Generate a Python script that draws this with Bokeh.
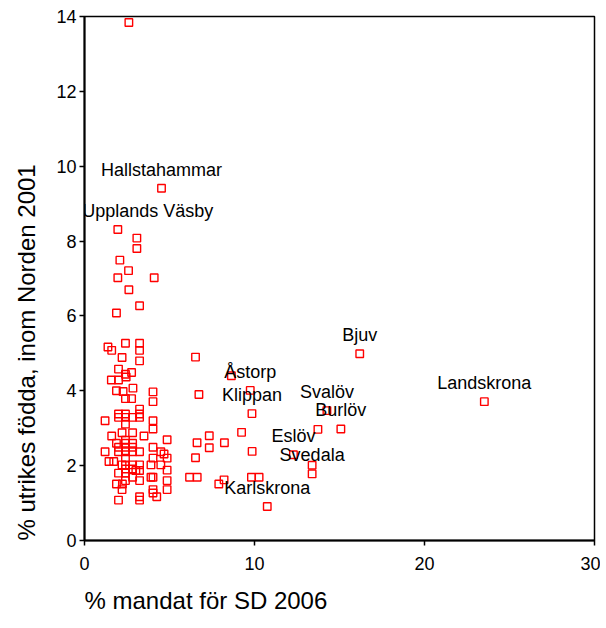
from bokeh.plotting import figure
from bokeh.models import Range1d, Title, FixedTicker, ColumnDataSource
from bokeh.core.properties import value
from bokeh.embed import file_html
from bokeh.resources import INLINE

# ---- data ----
x_title = "% mandat för SD 2006"
y_title = "% utrikes födda, inom Norden 2001"
x_ticks = [0, 10, 20, 30]
y_ticks = [0, 2, 4, 6, 8, 10, 12, 14]

labeled_names = ["Hallstahammar", "Upplands Väsby", "Bjuv", "Landskrona", "Åstorp",
                 "Klippan", "Svalöv", "Burlöv", "Eslöv", "Svedala", "Karlskrona"]
labeled_x = [4.53, 1.96, 16.19, 23.52, 9.75, 9.85, 14.26, 15.08, 12.29, 13.39, 10.75]
labeled_y = [9.41, 8.31, 4.99, 3.71, 4.01, 3.39, 3.47, 2.98, 2.29, 1.78, 0.91]

other_x = [2.61, 3.08, 3.08, 2.08, 2.59, 1.96, 4.10, 2.61, 3.24, 1.88,
           1.38, 1.60, 2.41, 3.24, 3.24, 2.21, 3.24, 6.53,
           2.00, 2.77, 2.41, 2.45, 1.58, 2.00, 2.85, 1.88, 2.27, 2.41, 2.77, 4.03, 4.03, 6.73, 8.64,
           3.24, 3.24, 3.24, 2.00, 2.00, 2.41, 2.41, 2.83, 1.21, 4.03, 2.41, 4.03, 3.50, 1.60, 2.21,
           2.83, 4.86, 1.88, 2.41, 2.41, 2.83, 2.00, 2.41, 2.83, 4.03, 1.21, 2.00, 2.41, 2.83, 3.24,
           4.49, 4.68, 4.03, 4.86, 2.41, 1.44, 1.72, 2.21, 2.41, 2.83, 3.24, 3.91, 4.49, 2.41, 2.83,
           3.24, 3.02, 2.00, 4.86, 2.41, 2.83, 4.03, 3.91, 6.18, 6.63, 1.88, 2.23, 2.41, 3.24, 4.86,
           7.90, 8.21, 2.21, 4.03, 4.86, 4.03, 4.25, 3.24, 3.24, 2.00, 9.82, 10.27, 9.86, 9.24, 8.23,
           7.34, 7.34, 6.62, 6.53, 13.73, 13.39]
other_y = [13.84, 8.08, 7.80, 7.49, 7.21, 7.02, 7.02, 6.70, 6.27, 6.08,
           5.17, 5.08, 5.27, 5.27, 5.08, 4.89, 4.80, 4.90,
           4.58, 4.49, 4.44, 4.37, 4.29, 4.29, 4.07, 4.00, 3.98, 3.79, 3.79, 3.97, 3.71, 3.90, 4.40,
           3.51, 3.38, 3.29, 3.38, 3.29, 3.38, 3.29, 3.29, 3.20, 3.20, 3.11, 2.98, 2.79, 2.79, 2.88,
           2.88, 2.69, 2.60, 2.68, 2.60, 2.60, 2.49, 2.49, 2.49, 2.49, 2.37, 2.37, 2.37, 2.37, 2.37,
           2.37, 2.31, 2.20, 2.20, 2.20, 2.11, 2.11, 2.02, 2.02, 2.02, 2.02, 2.02, 2.02, 1.91, 1.91,
           1.87, 1.87, 1.80, 1.88, 1.80, 1.69, 1.69, 1.69, 1.69, 1.69, 1.51, 1.51, 1.60, 1.60, 1.60,
           1.51, 1.62, 1.36, 1.36, 1.36, 1.27, 1.17, 1.17, 1.08, 1.08, 1.69, 1.69, 2.38, 2.89, 2.61,
           2.80, 2.48, 2.61, 2.21, 2.97, 2.01]

# ---- styling ----
FONT = "Liberation Sans"
# horizontal pixel shift per label (keeps "Upplands Väsby" inside the frame)
label_dx = [0, 30, 0, 0, 0, 0, 0, 0, 0, 0, 0]

p = figure(width=600, height=628, output_backend="svg", toolbar_location=None,
           x_range=Range1d(0, 30), y_range=Range1d(0, 14),
           min_border_left=84, min_border_right=6, min_border_top=16, min_border_bottom=88)
p.background_fill_color = "white"
p.border_fill_color = "white"
p.outline_line_color = "black"
p.outline_line_width = 1.5
p.grid.visible = False

for ax, ticks in ((p.xaxis[0], x_ticks), (p.yaxis[0], y_ticks)):
    ax.ticker = FixedTicker(ticks=ticks)
    ax.minor_tick_line_color = None
    ax.major_tick_in = 0
    ax.major_tick_out = 5
    ax.major_tick_line_width = 1.5
    ax.axis_line_width = 2
    ax.axis_line_color = "black"
    ax.major_tick_line_color = "black"
    ax.major_label_text_font = FONT
    ax.major_label_text_font_size = "18px"
    ax.major_label_text_color = "black"
p.xaxis[0].major_label_standoff = 11
p.yaxis[0].major_label_standoff = 3

src_all = ColumnDataSource(dict(x=other_x + labeled_x, y=other_y + labeled_y))
p.scatter("x", "y", source=src_all, marker="square", size=7.5,
          line_color="#FF0000", line_width=1.4, fill_alpha=0)

src_lab = ColumnDataSource(dict(x=labeled_x, y=labeled_y, t=labeled_names, dx=label_dx))
p.text("x", "y", text="t", source=src_lab, x_offset="dx", y_offset=-18.5,
       text_align="center", text_baseline="middle",
       text_font=value(FONT), text_font_size="18px", text_color="black")

p.add_layout(Title(text=x_title, align="left", standoff=25, vertical_align="bottom",
                   text_font=FONT, text_font_size="24px", text_font_style="normal",
                   text_color="black"), "below")
p.add_layout(Title(text=y_title, align="left", standoff=24, vertical_align="top",
                   text_font=FONT, text_font_size="24px", text_font_style="normal",
                   text_color="black"), "left")

open("out.html", "w").write(file_html(p, INLINE))
